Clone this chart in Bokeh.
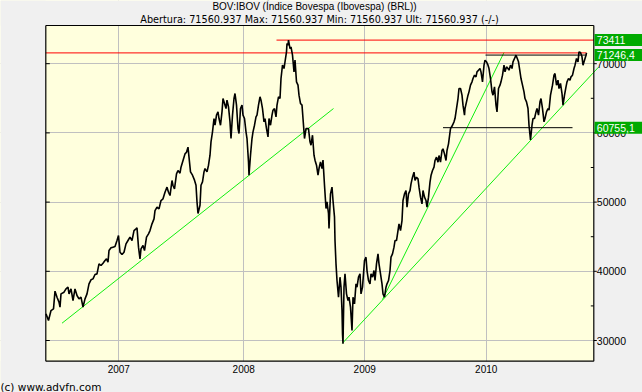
import numpy as np
from bokeh.plotting import figure
from bokeh.models import Range1d, FixedTicker
from bokeh.core.properties import value
from bokeh.embed import file_html
from bokeh.resources import INLINE

# trading-session index (0 = late June 2006) and closing level of the Ibovespa
sessions = [
    1, 6, 11, 16, 19, 23, 27, 29, 31, 37,
    41, 45, 47, 51, 55, 59, 63, 67, 71, 75,
    79, 83, 87, 91, 95, 99, 103, 107, 111, 115,
    119, 122, 125, 127, 131, 135, 139, 143, 146, 149,
    153, 157, 161, 165, 169, 173, 177, 181, 183, 186,
    189, 191, 195, 198, 202, 206, 209, 213, 217, 219,
    223, 227, 231, 235, 239, 243, 246, 249, 253, 255,
    258, 262, 265, 269, 271, 274, 277, 279, 282, 285,
    287, 290, 294, 298, 301, 303, 305, 309, 311, 314,
    317, 319, 323, 326, 329, 331, 334, 337, 339, 342,
    345, 347, 350, 353, 355, 358, 361, 363, 366, 369,
    371, 374, 377, 379, 382, 385, 387, 390, 393, 395,
    398, 401, 403, 406, 407, 410, 413, 415, 418, 421,
    423, 426, 429, 431, 434, 437, 439, 442, 445, 447,
    450, 453, 455, 458, 461, 463, 466, 469, 471, 474,
    477, 479, 482, 483, 485, 486, 489, 491, 494, 497,
    499, 502, 505, 507, 510, 513, 515, 518, 521, 523,
    526, 529, 531, 534, 537, 539, 542, 545, 547, 550,
    553, 555, 558, 561, 563, 566, 567, 570, 573, 575,
    578, 579, 581, 583, 586, 589, 591, 593, 594, 595,
    597, 599, 602, 605, 607, 610, 613, 615, 618, 621,
    623, 626, 629, 631, 634, 638, 641, 643, 646, 649,
    651, 654, 657, 659, 662, 665, 667, 670, 673, 675,
    678, 681, 683, 686, 689, 691, 694, 697, 699, 702,
    705, 707, 710, 713, 715, 718, 721, 723, 726, 729,
    731, 734, 737, 739, 742, 745, 747, 750, 753, 755,
    758, 761, 763, 766, 769, 771, 774, 777, 779, 782,
    785, 787, 790, 793, 795, 798, 801, 803, 806, 810,
    814, 817, 819, 822, 825, 827, 830, 833, 835, 838,
    839, 842, 845, 847, 850, 853, 855, 858, 861, 863,
    866, 869, 871, 874, 877, 879, 882, 885, 887, 890,
    893, 895, 898, 901, 903, 906, 909, 911, 914, 917,
    919, 922, 925, 927, 930, 933, 935, 938, 941, 943,
    946, 949, 951, 954, 957, 959, 962, 965, 967, 970,
    973, 975, 978, 981, 983, 986, 989, 991, 994, 997,
    999, 1002, 1005, 1007, 1010, 1014, 1017, 1019, 1022, 1025,
    1027, 1030, 1033, 1035, 1038, 1041, 1043, 1046, 1049, 1051,
    1054, 1057, 1059, 1062, 1065, 1067, 1070, 1073, 1075, 1078,
    1081, 1082,
]
closes = [
    33850, 32890, 34330, 34570, 37130, 36260, 35540, 34820, 36740, 36980,
    37460, 37710, 36740, 37460, 35780, 37460, 36500, 36020, 36260, 34820,
    36020, 36740, 38190, 38770, 38910, 39540, 39630, 41080, 40840, 41170,
    41560, 41800, 41320, 43000, 43390, 43490, 43580, 44450, 45170, 42760,
    42430, 42760, 43970, 44450, 44930, 44450, 45890, 46140, 46280, 43490,
    41800, 43250, 43730, 43000, 44930, 45410, 45890, 46860, 47580, 48780,
    49270, 49030, 50230, 50470, 51430, 52160, 51430, 50950, 53120, 52400,
    51920, 54080, 54570, 54180, 55050, 55770, 56490, 56970, 57210, 57940,
    56490, 54370, 53890, 53170, 52440, 50040, 48350, 49550, 52440, 52930,
    54370, 54850, 54370, 55330, 56780, 58710, 60150, 62080, 61110, 62560,
    63040, 62080, 61110, 63040, 64970, 64250, 63520, 64730, 63760, 61600,
    59190, 62560, 64970, 65690, 64010, 60630, 59910, 63520, 64010, 62560,
    62080, 60150, 59190, 55820, 53890, 56780, 59190, 60150, 61110, 62320,
    62560, 64010, 65210, 64730, 63520, 61600, 62080, 60630, 59430, 62080,
    61110, 62560, 63280, 63520, 62320, 64010, 65210, 64970, 67860, 69790,
    69300, 70270, 71710, 72920, 72680, 73411, 72190, 72440, 71230, 68820,
    70510, 67380, 66900, 65450, 64250, 64010, 62080, 59190, 60630, 60630,
    60630, 58710, 58220, 59670, 56780, 56060, 55330, 53890, 54850, 55820,
    54850, 56060, 52440, 49070, 50040, 48350, 46180, 51190, 52160, 50230,
    47820, 44450, 41080, 38670, 36260, 39150, 37710, 34330, 30960, 29520,
    37710, 39630, 36740, 35780, 36260, 34820, 31440, 36260, 35300, 38190,
    37710, 39150, 39630, 36740, 37710, 41560, 42040, 40110, 38670, 38190,
    39630, 39150, 40110, 38670, 41080, 42520, 41080, 39630, 38190, 36740,
    36260, 37710, 38190, 38670, 40110, 42040, 42520, 43490, 44450, 44450,
    45890, 46860, 45890, 47340, 50230, 51190, 51670, 49270, 51190, 51670,
    52640, 53600, 54320, 53120, 53600, 53360, 52160, 50710, 49750, 51670,
    50710, 50230, 49270, 50710, 52880, 53840, 54570, 55050, 56010, 56490,
    55770, 56730, 55770, 57460, 57700, 56970, 56010, 57460, 58420, 60630,
    61110, 61600, 62080, 63520, 64970, 66410, 66410, 65450, 64010, 62560,
    63520, 64490, 65450, 65930, 66900, 67380, 67860, 68340, 68100, 68820,
    69060, 69300, 68820, 67380, 69790, 70510, 70270, 69790, 69300, 67860,
    65930, 65450, 66650, 64010, 63040, 66410, 66900, 67380, 68340, 69790,
    68820, 69540, 69300, 69060, 69790, 69300, 70270, 70750, 71230, 70850,
    70270, 68820, 67860, 66900, 65930, 64970, 64490, 63520, 61110, 59000,
    61110, 62080, 62080, 63040, 63520, 62560, 64490, 64970, 63520, 61600,
    62080, 63040, 63520, 63280, 65450, 66900, 68340, 68580, 66900, 67620,
    66410, 67140, 65690, 64010, 65450, 66650, 67380, 67860, 67620, 68100,
    68340, 69300, 69790, 70750, 70270, 71710, 71620, 70990, 69790, 70510,
    71230, 71560.937,
]
assert len(sessions) == len(closes)

year_ticks = [146.6, 396.4, 638.4, 881.4]
year_labels = ["2007", "2008", "2009", "2010"]
price_ticks = [30000, 40000, 50000, 60000, 70000]
price_minor = [35000, 45000, 55000, 65000]

# visible chart window: sessions x_lo..axis_s, levels y_lo..y_hi
x_lo, axis_s = 0.6, 1096.6
y_lo, y_hi = 27010, 75520

# green trend lines (start session, start level, end session, end level)
trend_x0 = [33, 594, 674]
trend_y0 = [32500, 29610, 35920]
trend_x1 = [576, 1106, 917]
trend_y1 = [63520, 69500, 71620]

# horizontal levels
max_level = 73411
last_price = 71560.937
resist_level = 71246.4
support_level = 60755.1
level_vals = [max_level, last_price, resist_level, support_level]
level_x0 = [462, x_lo, 880, 795]
level_x1 = [axis_s, 1082, 1082, 1054]
level_colors = ["#FF0000", "#FF0000", "#000000", "#000000"]

box_vals = [73411, 71246.4, 60755.1]
box_texts = ["73411", "71246,4", "60755,1"]

title_text = "BOV:IBOV (Índice Bovespa (Ibovespa) (BRL))"
sub_text = "Abertura: 71560.937 Max: 71560.937 Min: 71560.937 Ult: 71560.937 (-/-)"
footer_text = "(c) www.advfn.com"

FONT = value("Liberation Sans")
FONT2 = value("DejaVu Sans")
BG = "#F0F0F0"

# page layout in pixels: the chart window sits inside a 642x392 canvas
W, H = 642, 392
pad_l, pad_r, pad_t, pad_b = 45.3, 48.7, 25.0, 31.3
sx = (axis_s - x_lo) / (W - pad_l - pad_r)
sy = (y_hi - y_lo) / (H - pad_t - pad_b)
X0, X1 = x_lo - pad_l * sx, axis_s + pad_r * sx
Y0, Y1 = y_lo - pad_b * sy, y_hi + pad_t * sy

p = figure(width=W, height=H, output_backend="svg", toolbar_location=None,
           x_range=Range1d(X0, X1), y_range=Range1d(Y0, Y1),
           x_axis_location=None, y_axis_location=None,
           min_border=0, min_border_left=0, min_border_right=0,
           min_border_top=0, min_border_bottom=0,
           background_fill_color="#FFFFDD", border_fill_color=BG,
           outline_line_color=None)

p.xgrid.ticker = FixedTicker(ticks=year_ticks)
p.ygrid.ticker = FixedTicker(ticks=price_ticks)
p.xgrid.grid_line_color = "#C0C0C0"
p.ygrid.grid_line_color = "#C0C0C0"

# grey margins around the chart window
p.quad(left=[X0, axis_s, X0, X0], right=[x_lo, X1, X1, X1],
       bottom=[Y0, Y0, y_hi, Y0], top=[Y1, Y1, Y1, y_lo],
       fill_color=BG, line_color=None)

# trend lines
p.segment(x0=trend_x0, y0=trend_y0, x1=trend_x1, y1=trend_y1,
          line_color="#11EE11", line_width=1)

# horizontal levels
p.segment(x0=level_x0, y0=level_vals, x1=level_x1, y1=level_vals,
          line_color=level_colors, line_width=1)

# price
p.line(sessions, closes, line_color="black", line_width=1.6)

# window border and price axis
p.segment(x0=[x_lo, x_lo, x_lo, axis_s], y0=[y_lo, y_hi, y_lo, y_lo],
          x1=[axis_s, axis_s, x_lo, axis_s], y1=[y_lo, y_hi, y_hi, y_hi],
          line_color="black", line_width=1.2)
p.ray(x=[axis_s] * len(price_ticks), y=price_ticks, length=3, angle=0,
      length_units="screen", line_color="black", line_width=1)
p.ray(x=[axis_s] * len(price_minor), y=price_minor, length=3, angle=np.pi,
      length_units="screen", line_color="black", line_width=1)
p.ray(x=[x_lo] * len(price_ticks), y=price_ticks, length=4, angle=0,
      length_units="screen", line_color="black", line_width=1)
p.text(x=[axis_s] * len(price_ticks), y=price_ticks, text=[str(t) for t in price_ticks],
       x_offset=3, text_align="left", text_baseline="middle",
       text_font=FONT, text_font_size="10.5px", text_color="black")

# year labels
p.text(x=year_ticks, y=[y_lo] * len(year_ticks), text=year_labels,
       y_offset=8, text_align="center", text_baseline="middle",
       text_font=FONT, text_font_size="10px", text_color="black")

# value boxes
p.rect(x=[X1] * len(box_vals), y=box_vals, width=96, height=12,
       width_units="screen", height_units="screen",
       fill_color="#00AA00", line_color=None)
p.text(x=[axis_s] * len(box_vals), y=box_vals, text=box_texts,
       x_offset=3, text_align="left", text_baseline="middle",
       text_font=FONT, text_font_size="10.5px", text_color="white")

# title, subtitle, footer
p.text(x=[x_lo], y=[y_hi], text=[title_text], x_offset=268.7, y_offset=-19,
       text_align="center", text_baseline="middle",
       text_font=FONT, text_font_size="10px", text_color="black")
p.text(x=[x_lo], y=[y_hi], text=[sub_text], x_offset=273.7, y_offset=-6.5,
       text_align="center", text_baseline="middle",
       text_font=FONT2, text_font_size="9.7px", text_color="black")
p.text(x=[x_lo], y=[y_lo], text=[footer_text], x_offset=-45.3, y_offset=25.5,
       text_align="left", text_baseline="middle",
       text_font=FONT2, text_font_size="10.5px", text_color="black")

open("out.html", "w").write(file_html(p, INLINE))
